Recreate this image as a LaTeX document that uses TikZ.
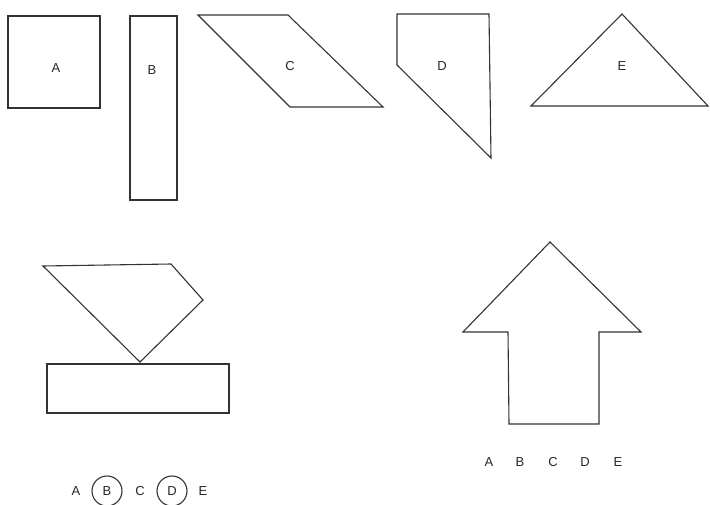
\documentclass[tikz,border=0pt]{standalone}
\usepackage{fontspec}
\setmainfont{Liberation Sans}
\usetikzlibrary{calc}
\tikzset{
	uganka/.style={x=1pt, y=-1pt, font=\fontsize{13}{15}\selectfont},
	lik/.style={draw=black!80, line width=1.1pt, line join=miter},
	crka/.style={inner sep=1pt, text=black!85},
	obroc/.style={draw=black!80, line width=1.1pt, circle, minimum size=30pt, inner sep=0pt},
}

\begin{document}
\begin{tikzpicture}[uganka]
\useasboundingbox (0,0) rectangle (710,505);

% ---------- liki ----------
\draw[lik] (8,16) rectangle (100,108);
\node[crka] (a) at (56,68) {A};

\draw[lik] (130,16) rectangle (177,200);
\node[crka] (b) at (152,70) {B};

\draw[lik] (198,15) -- (288,15) -- (383,107) -- (290,107) -- cycle;
\node[crka] (c) at (290,66) {C};

\draw[lik] (397,14) -- (489,14) -- (491,158) -- (397,65) -- cycle;
\node[crka] (d) at (442,66) {D};

\draw[lik] (622,14) -- (708,106) -- (531,106) -- cycle;
\node[crka] (e) at (622,66) {E};

% ---------- sestavljeni lik ----------
\draw[lik] (43,266) -- (171,264) -- (203,300) -- (140,362) -- cycle;
\draw[lik] (47,364) rectangle (229,413);

\draw[lik] (550,242) -- (641,332) -- (599,332) -- (599,424)
    -- (509,424) -- (508,332) -- (463,332) -- cycle;

% ---------- odgovori ----------
\foreach \crka/\x in {A/489, B/520, C/553, D/585, E/618}
    \node[crka] (o\crka) at (\x,462) {\crka};

\foreach \crka/\x in {A/76, B/107, C/140, D/172, E/203}
    \node[crka] (r\crka) at (\x,491) {\crka};
\node[obroc] (krogB) at (rB) {};
\node[obroc] (krogD) at (rD) {};

\end{tikzpicture}
\end{document}
